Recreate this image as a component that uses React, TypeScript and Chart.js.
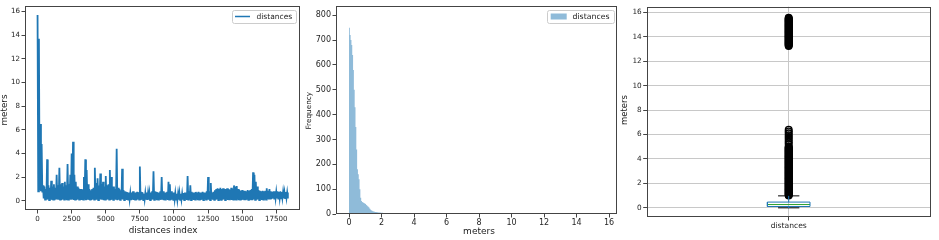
import React, { useEffect, useRef } from "react";
import { Chart, registerables } from "chart.js";

Chart.register(...registerables);

const FONT = '"DejaVu Sans", sans-serif';
Chart.defaults.font.family = FONT;

const BLUE = "#1f77b4";
const HIST_FILL = "rgba(31,119,180,0.5)";

// ---------- Panel 1: distances vs index (envelope read per 100-index bin) ----------
const lineBinSize = 100;
const lineBinHigh = [
  15.7, 13.7, 6.5, 4.8, 1.3, 1.2, 1.0, 3.5, 1.3, 1.1,
  1.7, 1.2, 1.4, 1.1, 2.2, 1.3, 2.8, 1.4, 1.5, 1.2,
  1.6, 1.3, 3.1, 1.4, 2.2, 4.0, 5.0, 2.2, 1.6, 1.2,
  1.1, 1.0, 1.0, 0.9, 2.0, 3.5, 2.6, 1.4, 1.0, 0.9,
  1.0, 1.1, 2.8, 1.5, 1.9, 1.3, 2.3, 1.4, 1.6, 1.2,
  2.1, 1.3, 1.4, 2.6, 2.0, 1.2, 1.2, 1.0, 4.4, 1.1,
  1.0, 0.9, 2.7, 0.9, 0.8, 0.75, 0.7, 0.7, 0.65, 0.7,
  0.8, 0.7, 0.7, 0.75, 0.7, 2.9, 0.75, 0.7, 0.6, 0.65,
  0.7, 0.65, 0.65, 0.7, 0.8, 2.5, 0.8, 0.75, 0.7, 0.7,
  0.8, 2.0, 0.8, 0.7, 0.7, 0.75, 1.6, 1.4, 0.8, 0.7,
  0.7, 0.65, 0.6, 0.6, 0.65, 0.6, 0.6, 0.65, 0.7, 0.7,
  2.1, 0.8, 1.3, 0.75, 0.7, 0.7, 0.75, 0.7, 0.75, 0.7,
  0.7, 0.75, 0.7, 0.7, 0.8, 2.0, 0.8, 1.5, 0.7, 0.75,
  0.9, 1.0, 1.05, 1.0, 1.1, 1.0, 1.05, 1.0, 1.0, 1.05,
  1.0, 0.95, 1.1, 1.0, 1.3, 1.2, 1.25, 1.0, 0.9, 0.85,
  0.9, 0.85, 0.85, 0.8, 0.9, 0.85, 0.9, 1.0, 2.4, 2.2,
  1.6, 1.2, 0.9, 0.85, 0.8, 0.85, 0.8, 0.85, 1.05, 0.85,
  1.0, 0.8, 0.75, 0.8, 0.8, 0.75, 0.8, 0.75, 0.8, 0.75,
  0.75, 0.7, 0.75, 0.7,
];
const lineBinLow = [
  0.8, 0.9, 0.8, 0.7, 0.2, 0.1, 0.08, 0.12, 0.06, 0.1,
  0.08, 0.1, 0.05, 0.12, 0.1, 0.08, 0.1, 0.06, 0.12, 0.1,
  0.08, 0.05, 0.1, 0.12, 0.08, 0.1, 0.06, 0.1, 0.08, 0.12,
  0.1, 0.06, 0.08, 0.1, 0.12, 0.05, 0.1, 0.08, 0.1, 0.06,
  0.12, 0.1, 0.08, 0.1, 0.06, 0.12, 0.1, 0.08, 0.05, 0.1,
  0.08, 0.12, 0.1, 0.06, 0.1, 0.08, 0.12, 0.1, 0.05, 0.1,
  0.08, 0.1, 0.12, 0.06, 0.1, 0.08, 0.1, 0.12, 0.05, 0.1,
  0.08, 0.1, 0.06, 0.12, 0.1, 0.08, 0.1, 0.05, 0.12, 0.1,
  0.08, 0.1, 0.06, 0.1, 0.12, 0.08, 0.1, 0.05, 0.1, 0.12,
  0.08, 0.1, 0.06, 0.1, 0.12, 0.08, 0.1, 0.05, 0.1, 0.08,
  0.12, 0.1, 0.06, 0.1, 0.08, 0.12, 0.1, 0.05, 0.1, 0.08,
  0.1, 0.12, 0.06, 0.1, 0.08, 0.1, 0.12, 0.05, 0.1, 0.08,
  0.1, 0.06, 0.12, 0.1, 0.08, 0.1, 0.05, 0.12, 0.1, 0.08,
  0.1, 0.12, 0.06, 0.1, 0.08, 0.1, 0.12, 0.05, 0.1, 0.08,
  0.12, 0.1, 0.06, 0.1, 0.08, 0.1, 0.12, 0.05, 0.1, 0.08,
  0.1, 0.12, 0.06, 0.1, 0.08, 0.1, 0.12, 0.05, 0.1, 0.08,
  0.1, 0.12, 0.06, 0.1, 0.08, 0.1, 0.12, 0.1, 0.15, 0.12,
  0.18, 0.15, 0.2, 0.18, 0.22, 0.2, 0.18, 0.22, 0.2, 0.25,
  0.2, 0.22, 0.25, 0.2,
];
const indexTicks = [0, 2500, 5000, 7500, 10000, 12500, 15000, 17500];
const meterTicks = [0, 2, 4, 6, 8, 10, 12, 14, 16];

// ---------- Panel 2: histogram of distances ----------
const histBinWidth = 0.05;
const histCounts = [
  750, 720, 700, 680, 640, 580, 500, 430, 350, 260,
  180, 160, 140, 100, 65, 52, 48, 46, 44, 42,
  40, 36, 33, 30, 27, 22, 18, 15, 13, 11,
  10, 9, 8, 8, 7, 7, 6, 6, 6, 5,
  5, 5, 4, 4, 4, 4, 3, 3, 3, 3,
  3, 3, 2, 2, 2, 2, 2, 2, 2, 2,
  2, 2, 2, 2, 2, 2, 2, 2, 2, 2,
  1, 1, 1, 1, 1, 1, 1, 1, 1, 1,
];
const histXTicks = [0, 2, 4, 6, 8, 10, 12, 14, 16];
const histYTicks = [0, 100, 200, 300, 400, 500, 600, 700, 800];

// ---------- Panel 3: box plot ----------
const boxCategory = "distances";
const boxQ1 = 0.11;
const boxMedian = 0.27;
const boxQ3 = 0.47;
const whiskerLow = 0.0;
const whiskerHigh = 0.98;
const fliers = [
  1.0, 1.05, 1.1, 1.15, 1.2, 1.25, 1.3, 1.35, 1.4, 1.45,
  1.5, 1.55, 1.6, 1.65, 1.7, 1.75, 1.8, 1.85, 1.9, 1.95,
  2.0, 2.05, 2.1, 2.15, 2.2, 2.25, 2.3, 2.35, 2.4, 2.45,
  2.5, 2.55, 2.6, 2.65, 2.7, 2.75, 2.8, 2.85, 2.9, 2.95,
  3.0, 3.05, 3.1, 3.15, 3.2, 3.25, 3.3, 3.35, 3.4, 3.45,
  3.5, 3.55, 3.6, 3.65, 3.7, 3.75, 3.8, 3.85, 3.9, 3.95,
  4.0, 4.05, 4.1, 4.15, 4.2, 4.25, 4.3, 4.35, 4.4, 4.45,
  4.5, 4.55, 4.6, 4.65, 4.7, 4.75, 4.8, 4.85, 4.9, 4.95, 5.0,
  5.2, 5.35, 5.5, 5.65, 5.8, 5.95, 6.1, 6.25, 6.4,
  13.25, 13.3, 13.35, 13.4, 13.45, 13.5, 13.55, 13.6, 13.65, 13.7,
  13.75, 13.8, 13.85, 13.9, 13.95, 14.0, 14.05, 14.1, 14.15, 14.2,
  14.25, 14.3, 14.35, 14.4, 14.45, 14.5, 14.55, 14.6, 14.65, 14.7,
  14.75, 14.8, 14.85, 14.9, 14.95, 15.0, 15.05, 15.1, 15.15, 15.2,
  15.25, 15.3, 15.35, 15.4, 15.45, 15.5, 15.55,
];

// ---------- helpers ----------
type Txt = { text: string; x: number; y: number; size: number; rotate?: boolean };

function linAxis(o: {
  min: number; max: number; ticks: number[]; size: number; fit: number;
  horizontal: boolean; grid?: boolean; label?: (v: number) => string; pad?: number;
}) {
  return {
    type: "linear",
    min: o.min,
    max: o.max,
    afterBuildTicks: (s: any) => {
      s.ticks = o.ticks.map((v) => ({ value: v }));
    },
    afterFit: (s: any) => {
      if (o.horizontal) s.height = o.fit;
      else s.width = o.fit;
    },
    ticks: {
      autoSkip: false,
      maxRotation: 0,
      minRotation: 0,
      padding: o.pad ?? 1.5,
      color: "#262626",
      font: { size: o.size, family: FONT },
      callback: (v: any) => (o.label ? o.label(v) : String(v)),
    },
    grid: {
      display: true,
      drawOnChartArea: !!o.grid,
      drawTicks: true,
      tickLength: 3.5,
      tickWidth: 1,
      tickColor: "#444",
      color: "#c8c8c8",
      lineWidth: 1,
    },
    border: { display: false },
  };
}

function roundRectPath(ctx: CanvasRenderingContext2D, x: number, y: number, w: number, h: number, r: number) {
  ctx.beginPath();
  ctx.moveTo(x + r, y);
  ctx.arcTo(x + w, y, x + w, y + h, r);
  ctx.arcTo(x + w, y + h, x, y + h, r);
  ctx.arcTo(x, y + h, x, y, r);
  ctx.arcTo(x, y, x + w, y, r);
  ctx.closePath();
}

function decorPlugin(texts: Txt[], legend?: (ctx: CanvasRenderingContext2D) => void) {
  return {
    id: "decor",
    afterDatasetsDraw(chart: any) {
      const { ctx, chartArea: a } = chart;
      ctx.save();
      ctx.strokeStyle = "#444";
      ctx.lineWidth = 1;
      const l = Math.round(a.left) + 0.5;
      const t = Math.round(a.top) + 0.5;
      const r = Math.round(a.right) - 0.5;
      const b = Math.round(a.bottom) - 0.5;
      ctx.strokeRect(l, t, r - l, b - t);
      ctx.restore();
    },
    afterDraw(chart: any) {
      const ctx: CanvasRenderingContext2D = chart.ctx;
      ctx.save();
      ctx.fillStyle = "#1a1a1a";
      ctx.textAlign = "center";
      ctx.textBaseline = "middle";
      for (const t of texts) {
        ctx.font = `${t.size}px ${FONT}`;
        if (t.rotate) {
          ctx.save();
          ctx.translate(t.x, t.y);
          ctx.rotate(-Math.PI / 2);
          ctx.fillText(t.text, 0, 0);
          ctx.restore();
        } else {
          ctx.fillText(t.text, t.x, t.y);
        }
      }
      if (legend) legend(ctx);
      ctx.restore();
    },
  };
}

function legendBox(ctx: CanvasRenderingContext2D, x: number, y: number, w: number, h: number) {
  roundRectPath(ctx, x + 0.5, y + 0.5, w, h, 2);
  ctx.fillStyle = "rgba(255,255,255,0.85)";
  ctx.fill();
  ctx.strokeStyle = "#cccccc";
  ctx.lineWidth = 1;
  ctx.stroke();
}

const baseOptions = {
  responsive: false,
  maintainAspectRatio: false,
  animation: false,
  devicePixelRatio: 1,
  events: [],
};

// ---------- App ----------
export default function App() {
  const c1 = useRef<HTMLCanvasElement>(null);
  const c2 = useRef<HTMLCanvasElement>(null);
  const c3 = useRef<HTMLCanvasElement>(null);

  useEffect(() => {
    document.body.style.margin = "0";

    // Panel 1
    const linePoints = lineBinHigh.flatMap((h, i) => [
      { x: i * lineBinSize, y: h },
      { x: i * lineBinSize + lineBinSize / 2, y: lineBinLow[i] },
    ]);
    const ch1 = new Chart(c1.current!, {
      type: "line",
      data: {
        datasets: [
          {
            label: "distances",
            data: linePoints,
            borderColor: BLUE,
            borderWidth: 1.8,
            pointRadius: 0,
            tension: 0,
          },
        ],
      },
      options: {
        ...baseOptions,
        layout: { padding: { left: 0, top: 5, right: 10, bottom: 0 } },
        plugins: { legend: { display: false }, tooltip: { enabled: false } },
        scales: {
          x: linAxis({ min: -920, max: 19240, ticks: indexTicks, size: 7.1, fit: 30, horizontal: true, pad: 1 }),
          y: linAxis({ min: -0.78, max: 16.49, ticks: meterTicks, size: 7.1, fit: 25, horizontal: false }),
        },
      } as any,
      plugins: [
        decorPlugin(
          [
            { text: "meters", x: 5, y: 110, size: 8.8, rotate: true },
            { text: "distances index", x: 163, y: 231, size: 8.8 },
          ],
          (ctx) => {
            legendBox(ctx, 232, 10, 64, 13);
            ctx.strokeStyle = BLUE;
            ctx.lineWidth = 1.5;
            ctx.beginPath();
            ctx.moveTo(235, 16.5);
            ctx.lineTo(250, 16.5);
            ctx.stroke();
            ctx.fillStyle = "#1a1a1a";
            ctx.font = `7.5px ${FONT}`;
            ctx.textAlign = "left";
            ctx.textBaseline = "middle";
            ctx.fillText("distances", 256.5, 16.8);
          }
        ) as any,
      ],
    });

    // Panel 2
    const histPoints = histCounts
      .map((c, i) => ({ x: i * histBinWidth, y: c }))
      .concat([{ x: histCounts.length * histBinWidth, y: 0 }]);
    const ch2 = new Chart(c2.current!, {
      type: "line",
      data: {
        datasets: [
          {
            label: "distances",
            data: histPoints,
            stepped: "before",
            fill: "origin",
            backgroundColor: HIST_FILL,
            borderWidth: 0,
            borderColor: "rgba(0,0,0,0)",
            pointRadius: 0,
          },
        ],
      },
      options: {
        ...baseOptions,
        layout: { padding: { left: 0, top: 5, right: 8.3, bottom: 0 } },
        plugins: { legend: { display: false }, tooltip: { enabled: false } },
        scales: {
          x: linAxis({ min: -0.8, max: 16.47, ticks: histXTicks, size: 8, fit: 26, horizontal: true, pad: 1 }),
          y: linAxis({ min: 0, max: 836, ticks: histYTicks, size: 8, fit: 36, horizontal: false }),
        },
      } as any,
      plugins: [
        decorPlugin(
          [
            { text: "Frequency", x: 9, y: 110.7, size: 7.3, rotate: true },
            { text: "meters", x: 179, y: 231.7, size: 9 },
          ],
          (ctx) => {
            legendBox(ctx, 247, 10, 67, 13);
            ctx.fillStyle = HIST_FILL;
            ctx.fillRect(250.7, 13.5, 16, 6);
            ctx.fillStyle = "#1a1a1a";
            ctx.font = `7.8px ${FONT}`;
            ctx.textAlign = "left";
            ctx.textBaseline = "middle";
            ctx.fillText("distances", 272.5, 16.8);
          }
        ) as any,
      ],
    });

    // Panel 3
    const pos = 1;
    const half = 0.075;
    const capHalf = 0.0375;
    const ch3 = new Chart(c3.current!, {
      type: "scatter",
      data: {
        datasets: [
          {
            data: [
              { x: pos, y: boxQ3 },
              { x: pos, y: whiskerHigh },
            ],
            showLine: true, borderColor: BLUE, borderWidth: 1, pointRadius: 0,
          },
          {
            data: [
              { x: pos, y: boxQ1 },
              { x: pos, y: whiskerLow },
            ],
            showLine: true, borderColor: BLUE, borderWidth: 1, pointRadius: 0,
          },
          {
            data: [
              { x: pos - capHalf, y: whiskerHigh },
              { x: pos + capHalf, y: whiskerHigh },
            ],
            showLine: true, borderColor: "#000", borderWidth: 1, pointRadius: 0,
          },
          {
            data: [
              { x: pos - capHalf, y: whiskerLow },
              { x: pos + capHalf, y: whiskerLow },
            ],
            showLine: true, borderColor: "#000", borderWidth: 1, pointRadius: 0,
          },
          {
            data: [
              { x: pos - half, y: boxQ1 },
              { x: pos + half, y: boxQ1 },
              { x: pos + half, y: boxQ3 },
              { x: pos - half, y: boxQ3 },
              { x: pos - half, y: boxQ1 },
            ],
            showLine: true, borderColor: BLUE, borderWidth: 1, pointRadius: 0,
          },
          {
            data: [
              { x: pos - half, y: boxMedian },
              { x: pos + half, y: boxMedian },
            ],
            showLine: true, borderColor: "#2ca02c", borderWidth: 1, pointRadius: 0,
          },
          {
            data: fliers.map((v) => ({ x: pos, y: v })),
            showLine: false,
            pointRadius: 3.3,
            pointBorderWidth: 1.4,
            pointBorderColor: "#000",
            pointBackgroundColor: "rgba(0,0,0,0)",
          },
        ],
      },
      options: {
        ...baseOptions,
        layout: { padding: { left: 0, top: 6.7, right: 8.3, bottom: 0 } },
        plugins: { legend: { display: false }, tooltip: { enabled: false } },
        scales: {
          x: linAxis({ min: 0.5, max: 1.5, ticks: [pos], size: 7.6, fit: 23, horizontal: true, grid: true, pad: 1, label: () => boxCategory }),
          y: linAxis({ min: -0.75, max: 16.46, ticks: meterTicks, size: 7.3, fit: 31.7, horizontal: false, grid: true }),
        },
      } as any,
      plugins: [decorPlugin([{ text: "meters", x: 10, y: 110, size: 8.5, rotate: true }]) as any],
    });

    return () => {
      ch1.destroy();
      ch2.destroy();
      ch3.destroy();
    };
  }, []);

  return (
    <div style={{ position: "absolute", left: 0, top: 0, width: 939, height: 240, background: "#fff", overflow: "hidden" }}>
      <canvas ref={c1} width={310} height={240} style={{ position: "absolute", left: 0, top: 0, width: 310, height: 240 }} />
      <canvas ref={c2} width={325} height={240} style={{ position: "absolute", left: 300, top: 0, width: 325, height: 240 }} />
      <canvas ref={c3} width={324} height={240} style={{ position: "absolute", left: 615, top: 0, width: 324, height: 240 }} />
    </div>
  );
}
